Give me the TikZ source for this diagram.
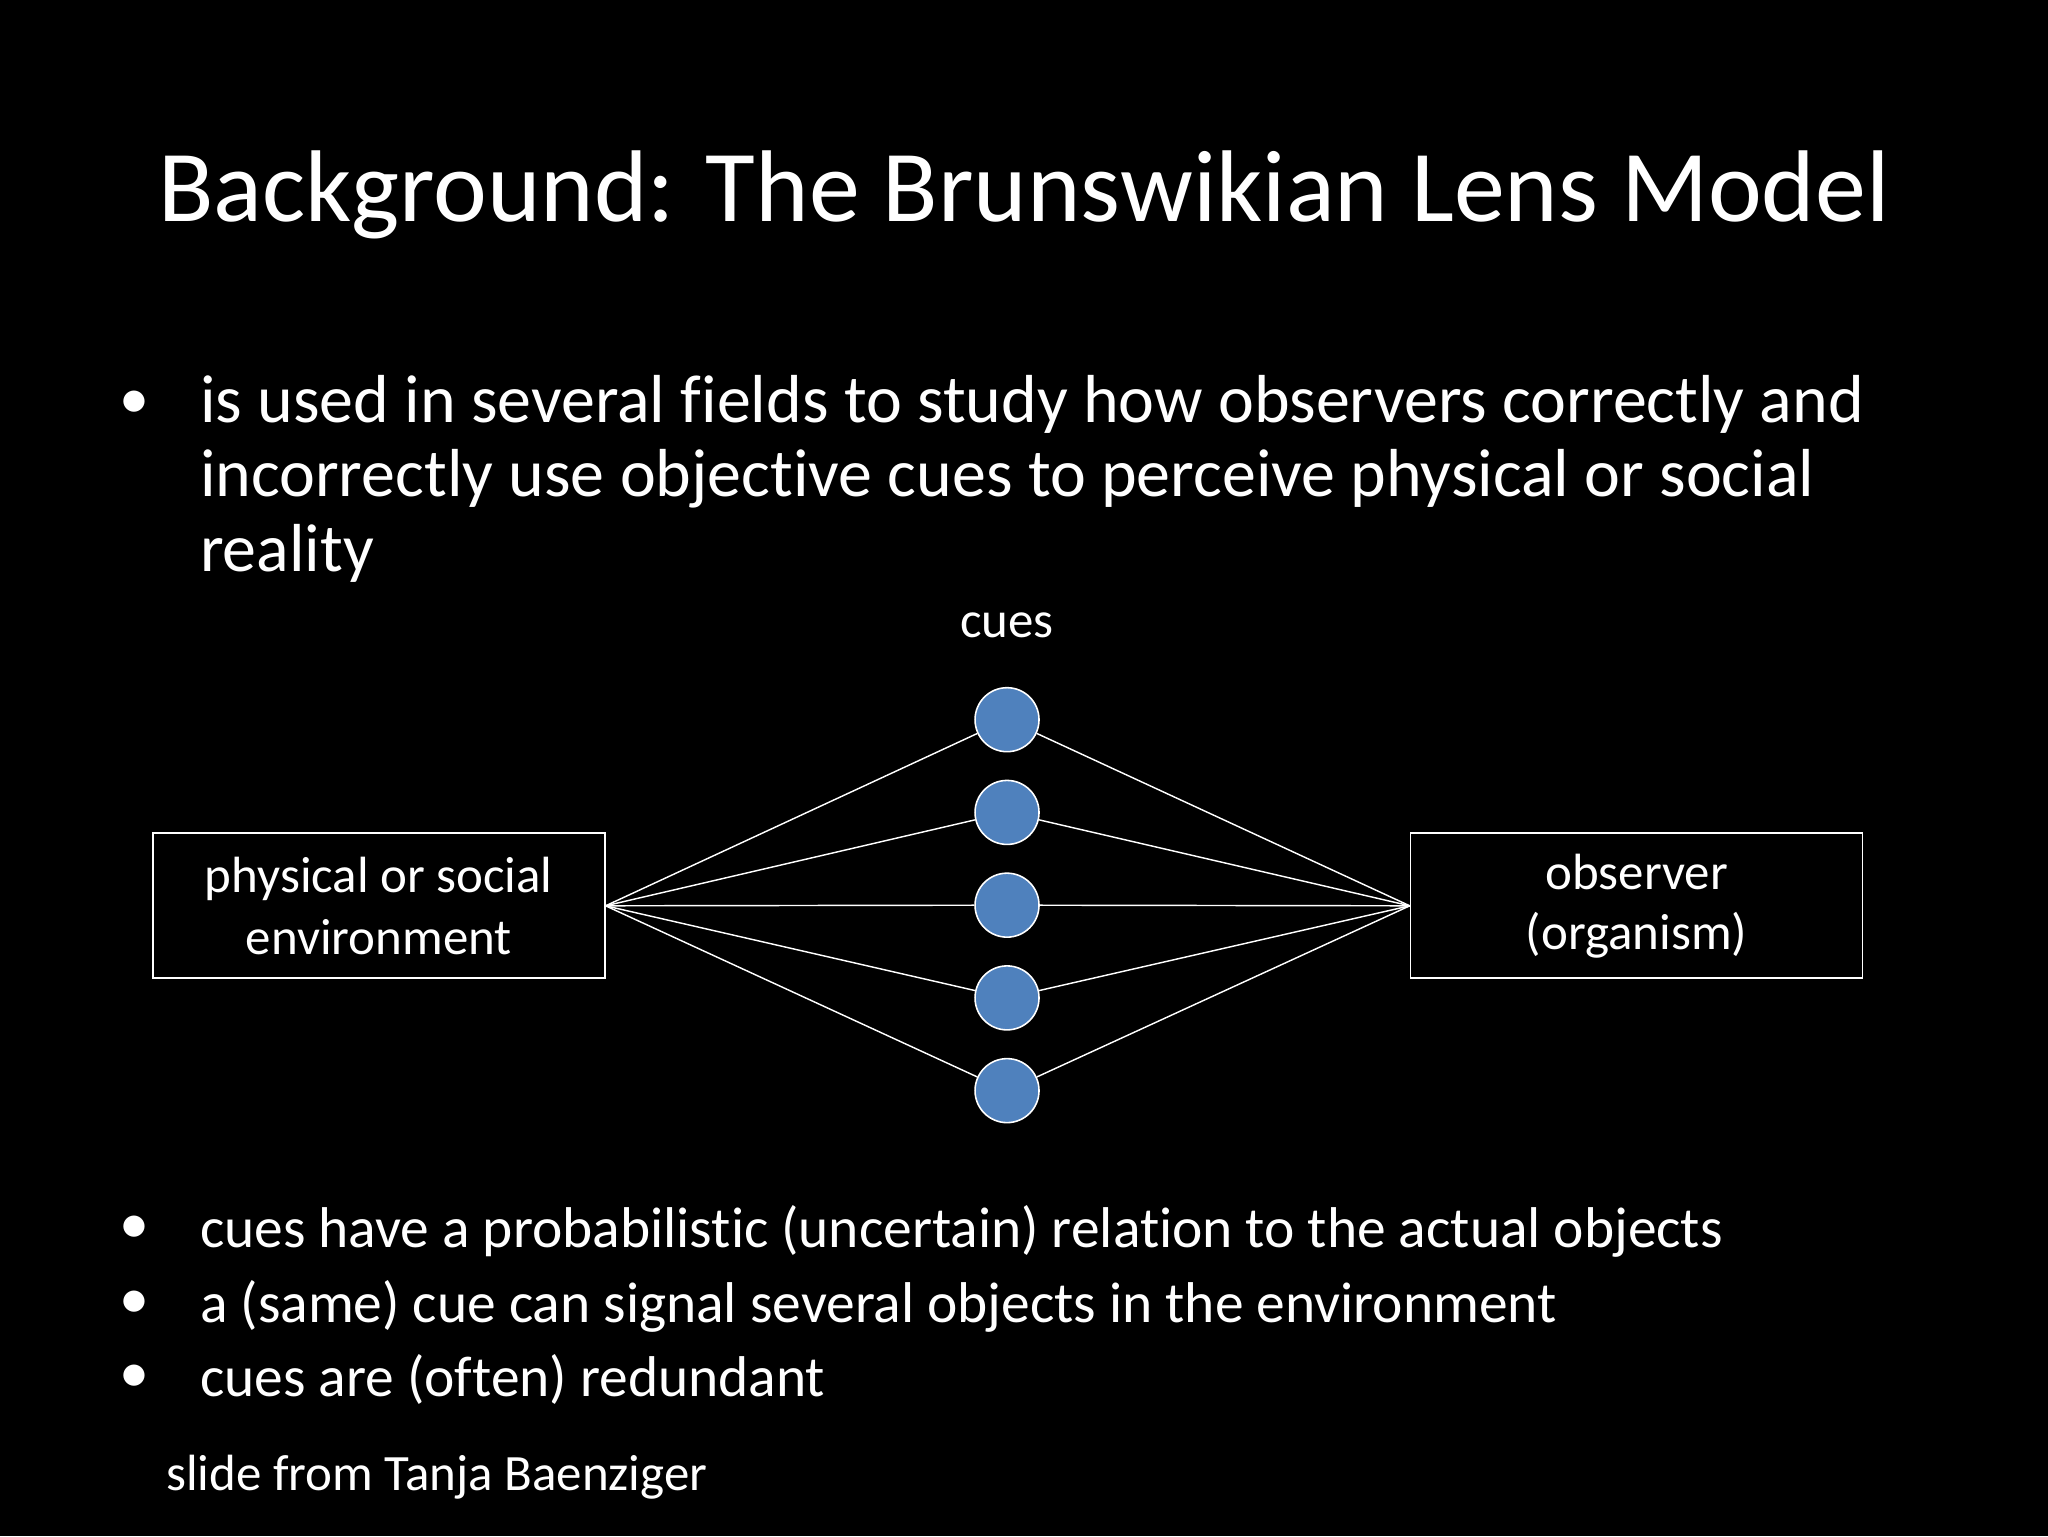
\documentclass[tikz,border=0pt]{standalone}
\usepackage{fontspec}
\setmainfont[Ligatures=NoCommon]{Carlito}
\definecolor{cueblue}{HTML}{4F81BD}
\begin{document}
\begin{tikzpicture}[x=1pt,y=-1pt,
  txt/.style={text=white,inner sep=0pt,anchor=mid west,font=\fontsize{52}{57}\selectfont},
  txtb/.style={text=white,inner sep=0pt,anchor=mid west,font=\fontsize{44}{57}\selectfont},
  bul/.style={text=white,inner sep=0pt,anchor=mid,font=\fontsize{46}{57}\selectfont},
  cue/.style={circle,fill=cueblue,draw=white,line width=1.2pt,minimum size=49pt,inner sep=0pt},
  bx/.style={draw=white,line width=1.3pt,text=white,minimum width=346pt,minimum height=111pt,align=center,font=\fontsize{39}{47}\selectfont},
  ln/.style={draw=white,line width=1.1pt}]
\fill[black] (0,0) rectangle (1568,1176);
\useasboundingbox (0,0) rectangle (1568,1176);
\node[text=white,anchor=mid,font=\fontsize{78}{80}\selectfont] (title) at (784,167) {Background: The Brunswikian Lens Model};
\node[bul] (b1) at (103,318) {•};
\node[txt] (t1) at (153,321) {is used in several fields to study how observers correctly and};
\node[txt] (t2) at (153,378) {incorrectly use objective cues to perceive physical or social};
\node[txt] (t3) at (153,435) {reality};
\node[text=white,font=\fontsize{39}{40}\selectfont,anchor=mid] (cues) at (771,486) {cues};
\node[bx] (env) at (290,693.5) {physical or social\\environment};
\node[bx] (obs) at (1253,693.5) {observer\\[-1pt](organism)};
\foreach \i/\y in {1/551,2/622,3/693,4/764,5/835}{
  \node[cue] (c\i) at (771,\y) {};
  \draw[ln] (env.east) -- (c\i);
  \draw[ln] (c\i) -- (obs.west);
}
\node[bul] (b2) at (103,950) {•};
\node[txtb] (u1) at (153,953) {cues have a probabilistic (uncertain) relation to the actual objects};
\node[bul] (b3) at (103,1007) {•};
\node[txtb] (u2) at (153,1010) {a (same) cue can signal several objects in the environment};
\node[bul] (b4) at (103,1064) {•};
\node[txtb] (u3) at (153,1067) {cues are (often) redundant};
\node[txt,font=\fontsize{39}{40}\selectfont] (foot) at (127,1139) {slide from Tanja Baenziger};
\end{tikzpicture}
\end{document}
